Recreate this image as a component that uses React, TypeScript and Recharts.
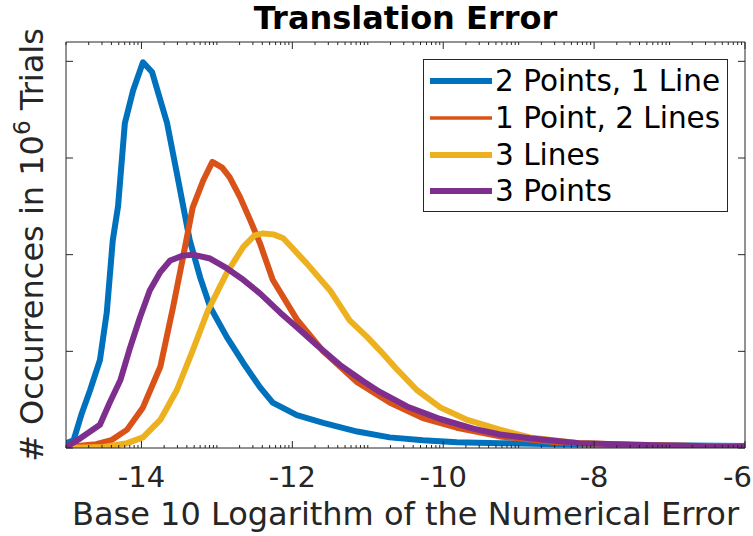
import React from 'react';
import { Legend, Line, LineChart, XAxis, YAxis } from 'recharts';

// log10(error) bins vs occurrence count (arbitrary units, tick spacing = 1)
const twoPointsOneLine: [number, number][] = [
	[-15, 0.05], [-14.9, 0.08], [-14.79, 0.36], [-14.68, 0.6], [-14.55, 0.91], [-14.46, 1.4], [-14.38, 2.15], [-14.31, 2.5],
	[-14.22, 3.36], [-14.11, 3.7], [-13.98, 3.99], [-13.86, 3.89], [-13.66, 3.36], [-13.53, 2.84], [-13.36, 2.15], [-13.22, 1.76],
	[-13.09, 1.46], [-12.87, 1.15], [-12.65, 0.88], [-12.43, 0.63], [-12.26, 0.47], [-11.94, 0.34], [-11.59, 0.26], [-11.14, 0.17],
	[-10.71, 0.11], [-10.27, 0.08], [-9.82, 0.06], [-9.25, 0.05], [-8.5, 0.04], [-7.5, 0.03], [-6, 0.02]
];
const onePointTwoLines: [number, number][] = [
	[-15, 0.01], [-14.6, 0.04], [-14.4, 0.08], [-14.19, 0.19], [-13.98, 0.42], [-13.75, 0.84], [-13.58, 1.46], [-13.45, 1.97],
	[-13.32, 2.49], [-13.18, 2.77], [-13.06, 2.96], [-12.93, 2.9], [-12.83, 2.8], [-12.69, 2.59], [-12.56, 2.36], [-12.43, 2.12],
	[-12.26, 1.74], [-11.94, 1.33], [-11.59, 1.0], [-11.14, 0.68], [-10.71, 0.47], [-10.27, 0.31], [-9.82, 0.21], [-9.25, 0.12],
	[-8.5, 0.06], [-7.5, 0.03], [-6, 0.01]
];
const threeLines: [number, number][] = [
	[-15, 0], [-14.5, 0.01], [-14.19, 0.05], [-13.98, 0.11], [-13.75, 0.29], [-13.53, 0.6], [-13.32, 1.01], [-13.12, 1.42],
	[-12.87, 1.81], [-12.65, 2.08], [-12.5, 2.2], [-12.39, 2.22], [-12.25, 2.21], [-12.12, 2.17], [-11.81, 1.91], [-11.5, 1.63],
	[-11.24, 1.32], [-11.01, 1.15], [-10.84, 1.01], [-10.61, 0.81], [-10.35, 0.6], [-10.04, 0.42], [-9.68, 0.29], [-9.25, 0.19],
	[-8.85, 0.11], [-8.2, 0.05], [-7.3, 0.03], [-6, 0.01]
];
const threePoints: [number, number][] = [
	[-15, 0.01], [-14.81, 0.1], [-14.55, 0.24], [-14.42, 0.47], [-14.28, 0.7], [-14.15, 1.04], [-14.02, 1.35], [-13.89, 1.63],
	[-13.75, 1.82], [-13.62, 1.94], [-13.45, 1.99], [-13.32, 2.0], [-13.09, 1.96], [-12.87, 1.86], [-12.65, 1.74], [-12.43, 1.6],
	[-12.16, 1.4], [-11.94, 1.25], [-11.67, 1.06], [-11.37, 0.86], [-11.06, 0.69], [-10.84, 0.58], [-10.48, 0.43], [-10.04, 0.3],
	[-9.6, 0.2], [-9.25, 0.14], [-8.85, 0.1], [-8.2, 0.05], [-7.3, 0.03], [-6, 0.01]
];

const xLabelTicks = [-14, -12, -10, -8, -6];
const xUnitTicks = [-15, -14, -13, -12, -11, -10, -9, -8, -7, -6];
const minorOffsets = [0.301, 0.477, 0.602, 0.699, 0.778, 0.845, 0.903, 0.954];
const yTicks = [0, 1, 2, 3, 4];

const series = [
	{ name: '2 Points, 1 Line', color: '#0072BD', data: twoPointsOneLine, legendWidth: 6 },
	{ name: '1 Point, 2 Lines', color: '#D95319', data: onePointTwoLines, legendWidth: 3.5 },
	{ name: '3 Lines', color: '#EDB120', data: threeLines, legendWidth: 6 },
	{ name: '3 Points', color: '#7E2F8E', data: threePoints, legendWidth: 6 }
];

const axisColor = '#262626';
const font = '"DejaVu Sans", sans-serif';

const allXTicks = [
	...xUnitTicks,
	...xUnitTicks.slice(0, -1).flatMap((u) => minorOffsets.map((o) => u + o))
].sort((a, b) => a - b);

const BottomTick = (props: any) => {
	const { x, y, payload } = props;
	const labelled = xLabelTicks.includes(payload.value);
	const len = labelled ? 7 : 3;
	// the last label would spill past the right edge, keep it inside the figure like the original
	const isLast = payload.value === xLabelTicks[xLabelTicks.length - 1];
	return (
		<g>
			<line x1={x} x2={x} y1={y} y2={y - len} stroke={axisColor} strokeWidth={1} />
			{labelled && (
				<text
					x={isLast ? x + 7 : x}
					y={y + 39}
					textAnchor={isLast ? 'end' : 'middle'}
					fill={axisColor}
					fontSize={29}
					fontFamily={font}
				>
					{payload.value}
				</text>
			)}
		</g>
	);
};

const TopTick = (props: any) => {
	const { x, y, payload } = props;
	const len = xLabelTicks.includes(payload.value) ? 7 : 3;
	return <line x1={x} x2={x} y1={y} y2={y + len} stroke={axisColor} strokeWidth={1} />;
};

const LeftTick = (props: any) => <line x1={props.x} x2={props.x + 7} y1={props.y} y2={props.y} stroke={axisColor} strokeWidth={1} />;
const RightTick = (props: any) => <line x1={props.x} x2={props.x - 7} y1={props.y} y2={props.y} stroke={axisColor} strokeWidth={1} />;

const YLabel = (props: any) => {
	const vb = props.viewBox;
	const cx = vb.x + vb.width - 23;
	const cy = vb.y + vb.height / 2;
	return (
		<text x={cx} y={cy} transform={`rotate(-90, ${cx}, ${cy})`} textAnchor='middle' fill={axisColor} fontSize={32} fontFamily={font}>
			<tspan># Occurrences in 10</tspan>
			<tspan dy={-13} fontSize={23}>6</tspan>
			<tspan dy={13}> Trials</tspan>
		</text>
	);
};

const XLabel = (props: any) => {
	const vb = props.viewBox;
	return (
		<text x={vb.x + vb.width / 2} y={vb.y + 77} textAnchor='middle' fill={axisColor} fontSize={32} fontFamily={font}>
			Base 10 Logarithm of the Numerical Error
		</text>
	);
};

const Title = (props: any) => {
	const vb = props.viewBox;
	return (
		<text x={vb.x + vb.width / 2} y={vb.y + vb.height - 13} textAnchor='middle' fill='#000' fontSize={32} fontWeight='bold' fontFamily={font}>
			Translation Error
		</text>
	);
};

const LegendBox = () => (
	<div
		style={{
			width: 303,
			height: 148,
			border: `1px solid ${axisColor}`,
			background: '#fff',
			paddingTop: 3,
			boxSizing: 'content-box',
			fontFamily: font
		}}
	>
		{series.map((s) => (
			<div key={s.name} style={{ display: 'flex', alignItems: 'center', height: 36.7 }}>
				<svg width={71} height={10} style={{ flex: 'none' }}>
					<line x1={6} x2={68} y1={5} y2={5} stroke={s.color} strokeWidth={s.legendWidth} />
				</svg>
				<span style={{ fontSize: 29.5, color: '#000', whiteSpace: 'nowrap', lineHeight: '36px' }}>{s.name}</span>
			</div>
		))}
	</div>
);

export default function App() {
	return (
		<div style={{ position: 'absolute', left: 0, top: 0, width: 753, height: 536, background: '#fff' }}>
			<LineChart width={753} height={536} margin={{ top: 41, right: 7, bottom: 87, left: 65 }}>
				<XAxis
					xAxisId='b'
					type='number'
					dataKey='x'
					domain={[-15, -6]}
					ticks={allXTicks}
					interval={0}
					height={1}
					tickSize={0}
					tickMargin={0}
					tickLine={false}
					axisLine={{ stroke: axisColor }}
					tick={BottomTick}
					allowDataOverflow
					label={{ content: XLabel }}
				/>
				<XAxis
					xAxisId='t'
					orientation='top'
					type='number'
					dataKey='x'
					domain={[-15, -6]}
					ticks={allXTicks}
					interval={0}
					height={1}
					tickSize={0}
					tickMargin={0}
					tickLine={false}
					axisLine={{ stroke: axisColor }}
					tick={TopTick}
					allowDataOverflow
					label={{ content: Title }}
				/>
				<YAxis
					yAxisId='l'
					type='number'
					domain={[0, 4.2]}
					ticks={yTicks}
					interval={0}
					width={1}
					tickSize={0}
					tickMargin={0}
					tickLine={false}
					axisLine={{ stroke: axisColor }}
					tick={LeftTick}
					allowDataOverflow
					label={{ content: YLabel }}
				/>
				<YAxis
					yAxisId='r'
					orientation='right'
					type='number'
					domain={[0, 4.2]}
					ticks={yTicks}
					interval={0}
					width={1}
					tickSize={0}
					tickMargin={0}
					tickLine={false}
					axisLine={{ stroke: axisColor }}
					tick={RightTick}
					allowDataOverflow
				/>
				{series.map((s) => (
					<Line
						key={s.name}
						xAxisId='b'
						yAxisId='l'
						data={s.data.map(([x, y]) => ({ x, y }))}
						dataKey='y'
						name={s.name}
						type='linear'
						stroke={s.color}
						strokeWidth={6}
						strokeLinejoin='round'
						dot={false}
						activeDot={false}
						isAnimationActive={false}
					/>
				))}
				<Legend
					layout='vertical'
					align='center'
					verticalAlign='middle'
					content={LegendBox}
					wrapperStyle={{ left: 423, top: 59, width: 305, height: 152 }}
				/>
			</LineChart>
		</div>
	);
}
